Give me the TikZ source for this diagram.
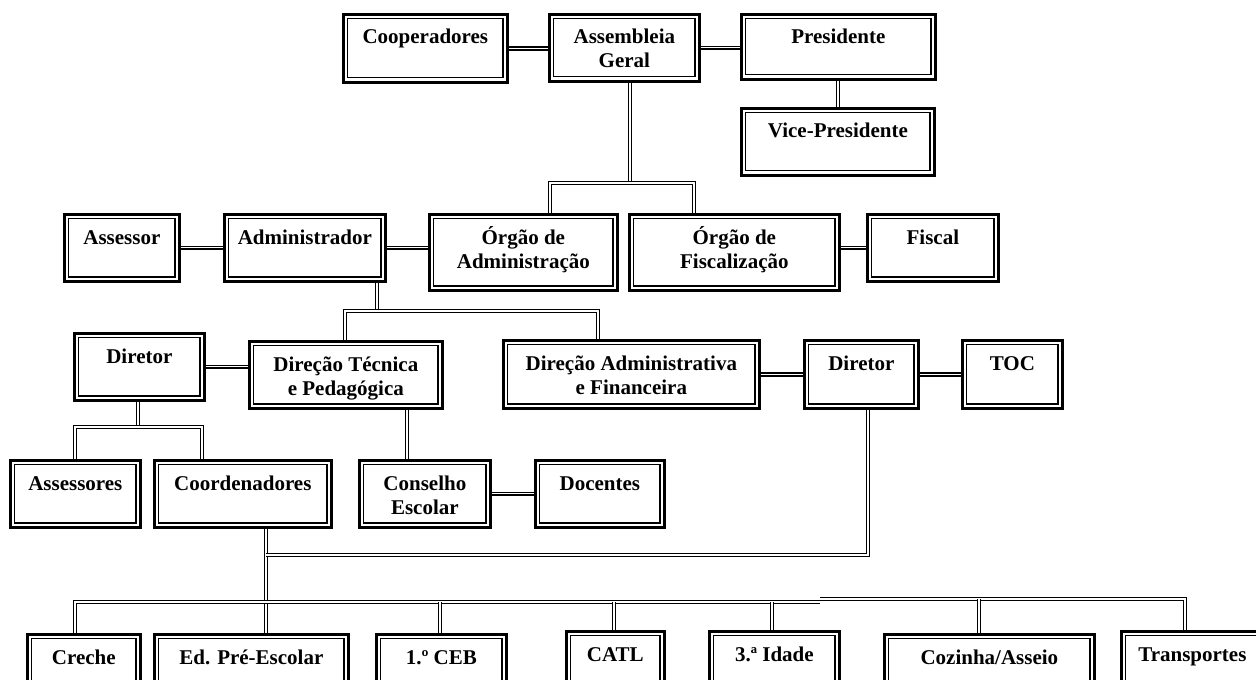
\documentclass[tikz,border=0pt]{standalone}
\usepackage{fontspec}
\setmainfont{Liberation Serif}
\tikzset{
  box/.style={draw=black, line width=1.35pt, inner sep=0pt, fill=white,
    path picture={\draw[line width=0.55pt]
      ([shift={(2.2pt,-2.2pt)}]path picture bounding box.north west) rectangle
      ([shift={(-2.2pt,2.2pt)}]path picture bounding box.south east);}},
  lbl/.style={inner sep=0pt, font=\bfseries\fontsize{10.5}{12}\selectfont},
  conn/.style={draw=black, line width=0.8pt, double=white, double distance=0.6pt}
}
\newcommand\obox[6]{%
  \node[box, anchor=north west, minimum width={(#4-#2)*0.5pt}, minimum height={(#5-#3)*0.5pt}] (#1) at (#2,#3) {};
  \node[lbl, anchor=base, yshift=-15.5pt] at (#1.north) {\begin{tabular}[t]{@{}c@{}}#6\end{tabular}};}
\begin{document}
\begin{tikzpicture}[x=0.5pt,y=-0.5pt]
\useasboundingbox (0,0) rectangle (1256,679);
\clip (0,0) rectangle (1256,679);
% row 1
\obox{coop}{342}{13}{506}{81}{Cooperadores}
\obox{ag}{548}{13}{698}{80}{Assembleia\\Geral}
\obox{pres}{740}{13}{934}{78}{Presidente}
\obox{vice}{740}{107}{933}{174}{Vice-Presidente}
% row 2
\obox{ass}{63}{213}{178}{280}{Assessor}
\obox{adm}{223}{213}{384}{280}{Administrador}
\obox{oadm}{428}{213}{616}{289}{Órgão de\\Administração}
\obox{ofisc}{628}{213}{838}{289}{Órgão de\\Fiscalização}
\obox{fisc}{866}{213}{997}{280}{Fiscal}
% row 3
\obox{dirl}{73}{332}{203}{399}{Diretor}
\obox{dtp}{248}{340}{441}{407}{Direção Técnica\\e Pedagógica}
\obox{daf}{502}{339}{758}{407}{Direção Administrativa\\e Financeira}
\obox{dirr}{803}{339}{917}{407}{Diretor}
\obox{toc}{961}{339}{1061}{407}{TOC}
% row 4
\obox{asss}{9}{459}{139}{526}{Assessores}
\obox{coord}{153}{459}{330}{526}{Coordenadores}
\obox{cons}{358}{459}{489}{526}{Conselho\\Escolar}
\obox{doc}{534}{459}{663}{526}{Docentes}
% bottom row
\obox{creche}{26}{633}{139}{700}{Creche}
\obox{edpre}{153}{633}{347}{700}{Ed. Pré-Escolar}
\obox{ceb}{375}{633}{505}{700}{1.º CEB}
\obox{catl}{565}{630}{663}{700}{CATL}
\obox{idade}{708}{630}{838}{700}{3.ª Idade}
\obox{coz}{883}{633}{1093}{700}{Cozinha/Asseio}
\obox{transp}{1120}{630}{1262}{700}{Transportes}
% connectors
\draw[conn] (coop.east) -- (coop.east -| ag.west);
\draw[conn] (ag.east) -- (ag.east -| pres.west);
\coordinate (pv) at (838,0);
\draw[conn] (pres.south -| pv) -- (vice.north -| pv);
\coordinate (j1) at (630,183);
\coordinate (b1l) at (550,183);
\coordinate (b1r) at (694,183);
\draw[conn] (ag.south -| j1) -- (j1);
\draw[conn] (oadm.north -| b1l) -- (b1l) -- (b1r) -- (ofisc.north -| b1r);
\draw[conn] (ass.east) -- (ass.east -| adm.west);
\draw[conn] (adm.east) -- (adm.east -| oadm.west);
\draw[conn] (fisc.west) -- (fisc.west -| ofisc.east);
\coordinate (j2) at (377,311);
\coordinate (b2l) at (345,311);
\coordinate (b2r) at (598,311);
\draw[conn] (adm.south -| j2) -- (j2);
\draw[conn] (dtp.north -| b2l) -- (b2l) -- (b2r) -- (daf.north -| b2r);
\draw[conn] (dirl.east) -- (dirl.east -| dtp.west);
\draw[conn] (daf.east) -- (daf.east -| dirr.west);
\draw[conn] (dirr.east) -- (dirr.east -| toc.west);
\coordinate (j3) at (138,427);
\coordinate (b3l) at (75,427);
\coordinate (b3r) at (202,427);
\draw[conn] (dirl.south -| j3) -- (j3);
\draw[conn] (asss.north -| b3l) -- (b3l) -- (b3r) -- (coord.north -| b3r);
\coordinate (j4) at (407,0);
\draw[conn] (dtp.south -| j4) -- (cons.north -| j4);
\draw[conn] (cons.east) -- (cons.east -| doc.west);
\coordinate (j5) at (266,555);
\coordinate (j6) at (868,555);
\draw[conn] (coord.south -| j5) -- (edpre.north -| j5);
\draw[conn] (dirr.south -| j6) -- (j6) -- (j5);
\coordinate (bl) at (75,602);
\coordinate (bm) at (820,602);
\coordinate (bm2) at (820,599);
\coordinate (br) at (1185,599);
\draw[conn] (creche.north -| bl) -- (bl) -- (bm);
\draw[conn] (bm2) -- (br) -- (transp.north -| br);
\coordinate (d3) at (440,602);
\coordinate (d4) at (614,602);
\coordinate (d5) at (772,602);
\coordinate (d6) at (979,599);
\draw[conn] (d3) -- (ceb.north -| d3);
\draw[conn] (d4) -- (catl.north -| d4);
\draw[conn] (d5) -- (idade.north -| d5);
\draw[conn] (d6) -- (coz.north -| d6);
\end{tikzpicture}
\end{document}
